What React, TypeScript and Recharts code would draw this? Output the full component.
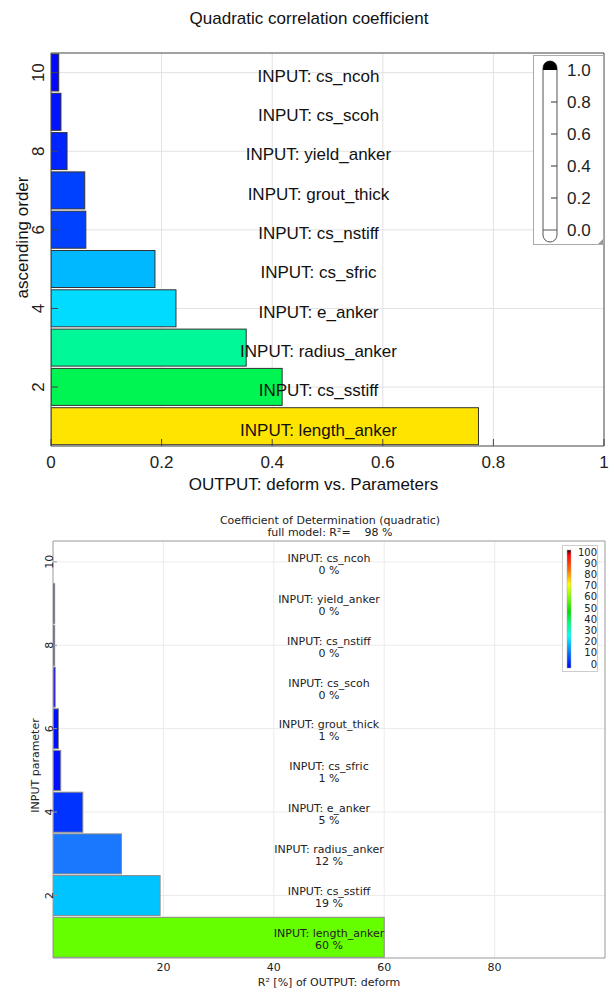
import React from 'react';
import { BarChart, Bar, XAxis, YAxis, CartesianGrid, Cell, Legend } from 'recharts';

// ---------- Top chart data ----------
const topRanks = [1, 2, 3, 4, 5, 6, 7, 8, 9, 10];
const topParams = ['length_anker', 'cs_sstiff', 'radius_anker', 'e_anker', 'cs_sfric', 'cs_nstiff', 'grout_thick', 'yield_anker', 'cs_scoh', 'cs_ncoh'];
const topValues = [0.773, 0.418, 0.353, 0.226, 0.188, 0.063, 0.061, 0.029, 0.018, 0.014];
const topXTicks = [0, 0.2, 0.4, 0.6, 0.8, 1];
const topYTicks = [2, 4, 6, 8, 10];
const topLegendTicks = ['1.0', '0.8', '0.6', '0.4', '0.2', '0.0'];

// ---------- Bottom chart data ----------
const botRanks = [1, 2, 3, 4, 5, 6, 7, 8, 9, 10];
const botParams = ['length_anker', 'cs_sstiff', 'radius_anker', 'e_anker', 'cs_sfric', 'grout_thick', 'cs_scoh', 'cs_nstiff', 'yield_anker', 'cs_ncoh'];
const botValues = [60.0, 19.4, 12.4, 5.4, 1.4, 1.0, 0.4, 0.3, 0.3, 0.0];
const botXTicks = [20, 40, 60, 80];
const botYTicks = [2, 4, 6, 8, 10];
const botLegendTicks = ['100', '90', '80', '70', '60', '50', '40', '30', '20', '10', '0'];
const fullModelR2 = 98;

// ---------- Styles ----------
const topColors = ['#FFE400', '#00F552', '#00F898', '#00DCFF', '#00B8FF', '#0040FF', '#0040FF', '#0024FF', '#0014FF', '#0008FF'];
const botColors = ['#66FF00', '#00C4FF', '#1A78FF', '#0033FF', '#0010FF', '#0010FF', '#0808F0', '#0808F0', '#0808F0', '#0000FF'];
const SANS = '"Liberation Sans", Arial, sans-serif';
const DEJAVU = '"DejaVu Sans", Verdana, sans-serif';

const topData = topRanks.map((r, i) => ({ rank: r, value: topValues[i], name: topParams[i] }));
const botData = botRanks.map((r, i) => ({ rank: r, value: botValues[i], name: botParams[i] }));

const TopShape = (props: any) => {
  const { x, y, width, height, fill, background, payload } = props;
  const cx = background ? background.x + background.width / 2 : x;
  const cy = y + height / 2;
  return (
    <g>
      {width > 0 && <rect x={x} y={y} width={width} height={height} fill={fill} stroke="#333" strokeWidth={1} />}
      <text x={cx - 9} y={cy} dy="0.55em" textAnchor="middle" fontFamily={SANS} fontSize={17} fill="#111">
        {'INPUT: ' + payload.name}
      </text>
    </g>
  );
};

const BotShape = (props: any) => {
  const { x, y, width, height, fill, background, payload } = props;
  const cx = background ? background.x + background.width / 2 : x;
  const cy = y + height / 2;
  return (
    <g>
      {width > 0.2 && <rect x={x} y={y} width={width} height={height} fill={fill} stroke="#888" strokeWidth={1} />}
      <text x={cx} y={cy - 0.5} textAnchor="middle" fontFamily={DEJAVU} fontSize={11} fill="#222">
        {'INPUT: ' + payload.name}
      </text>
      <text x={cx} y={cy + 11.5} textAnchor="middle" fontFamily={DEJAVU} fontSize={11} fill="#222">
        {Math.round(payload.value) + ' %'}
      </text>
    </g>
  );
};

const RotTick = (fs: number, fam: string, shift: number) => (props: any) => {
  const { x, y, payload } = props;
  const cx = x + shift;
  return (
    <text x={cx} y={y} dy="0.35em" transform={`rotate(-90 ${cx} ${y})`} textAnchor="middle" fontFamily={fam} fontSize={fs} fill="#222">
      {payload.value}
    </text>
  );
};

const TopLegend = () => {
  const tubeX = 9, tubeW = 14, top = 5, bot = 186;
  const lvl1 = 14, lvl0 = 174;
  const step = (lvl0 - lvl1) / (topLegendTicks.length - 1);
  return (
    <svg width={71} height={190} style={{ display: 'block', background: '#fff', border: '1px solid #aaa', boxSizing: 'border-box' }}>
      <rect x={tubeX} y={top} width={tubeW} height={bot - top} rx={7} ry={7} fill="#fff" stroke="#555" strokeWidth={1} />
      <path d={`M${tubeX},${lvl1} L${tubeX},${top + 7} A7,7 0 0 1 ${tubeX + tubeW},${top + 7} L${tubeX + tubeW},${lvl1} Z`} fill="#000" />
      <line x1={tubeX} x2={tubeX + tubeW} y1={lvl0} y2={lvl0} stroke="#555" strokeWidth={1} />
      {topLegendTicks.map((t, i) => {
        const yy = lvl1 + i * step;
        return (
          <g key={t}>
            {i > 0 && i < topLegendTicks.length - 1 && <line x1={tubeX + 8} x2={tubeX + tubeW} y1={yy} y2={yy} stroke="#333" strokeWidth={1} />}
            <text x={33} y={yy} dy="0.36em" fontFamily={SANS} fontSize={17} fill="#222">{t}</text>
          </g>
        );
      })}
      <path d="M70,182 L70,189 L63,189 Z" fill="#999" />
    </svg>
  );
};

const BotLegend = () => {
  const top = 4, bot = 122;
  const step = (118 - 6) / (botLegendTicks.length - 1);
  return (
    <svg width={36} height={127} style={{ display: 'block', background: '#fff', border: '1px solid #ccc', boxSizing: 'border-box' }}>
      <defs>
        <linearGradient id="jetGrad" x1="0" y1="0" x2="0" y2="1">
          <stop offset="0%" stopColor="#200000" />
          <stop offset="4%" stopColor="#ff0000" />
          <stop offset="17%" stopColor="#ff7000" />
          <stop offset="29%" stopColor="#ffff00" />
          <stop offset="40%" stopColor="#80ff00" />
          <stop offset="52%" stopColor="#00e000" />
          <stop offset="62%" stopColor="#00ff80" />
          <stop offset="73%" stopColor="#00ffff" />
          <stop offset="86%" stopColor="#0080ff" />
          <stop offset="100%" stopColor="#0000ff" />
        </linearGradient>
      </defs>
      <rect x={4} y={top} width={4} height={bot - top} fill="url(#jetGrad)" stroke="#aaa" strokeWidth={0.5} />
      {botLegendTicks.map((t, i) => (
        <text key={t} x={34} y={6 + i * step} dy="0.36em" textAnchor="end" fontFamily={DEJAVU} fontSize={10} fill="#222">{t}</text>
      ))}
    </svg>
  );
};

export default function App() {
  return (
    <div style={{ position: 'absolute', left: 0, top: 0, width: 611, height: 988, background: '#fff' }}>
      <div style={{ position: 'absolute', left: 0, top: 9, width: 618, textAlign: 'center', fontFamily: SANS, fontSize: 17, color: '#111' }}>
        Quadratic correlation coefficient
      </div>
      <div style={{ position: 'absolute', left: 0, top: 0 }}>
        <BarChart width={611} height={500} data={topData} layout="vertical" margin={{ top: 52, right: 6, left: 0, bottom: 6 }}>
          <CartesianGrid stroke="#e2e2e2" horizontalValues={topYTicks} verticalValues={[0.2, 0.4, 0.6, 0.8]} />
          <XAxis type="number" dataKey="value" domain={[0, 1]} ticks={topXTicks} allowDataOverflow height={48}
            axisLine={{ stroke: '#444' }} tickLine={{ stroke: '#444' }} tickSize={-7} tickMargin={17}
            tick={{ fontFamily: SANS, fontSize: 17, fill: '#222' }}
            label={{ value: 'OUTPUT: deform vs. Parameters', position: 'insideBottom', offset: 4, dx: -14, fontFamily: SANS, fontSize: 17, fill: '#111' }} />
          <XAxis xAxisId="top" orientation="top" type="number" domain={[0, 1]} ticks={topXTicks} height={1}
            axisLine={{ stroke: '#444' }} tickLine={{ stroke: '#444' }} tickSize={-7} tick={false} />
          <YAxis type="number" dataKey="rank" domain={[0.5, 10.5]} ticks={topYTicks} allowDataOverflow width={51} reversed
            axisLine={{ stroke: '#444' }} tickLine={{ stroke: '#444' }} tickSize={-7} tickMargin={20}
            tick={RotTick(17, SANS, 0)}
            label={{
              content: (p: any) => {
                const vb = p.viewBox || { x: 0, y: 53, width: 51, height: 393 };
                const cx = vb.x + 22;
                const cy = vb.y + vb.height / 2 - 12;
                return (
                  <text x={cx} y={cy} dy="0.35em" transform={`rotate(-90 ${cx} ${cy})`} textAnchor="middle" fontFamily={SANS} fontSize={17} fill="#111">
                    ascending order
                  </text>
                );
              },
            }} />
          <YAxis yAxisId="right" orientation="right" type="number" domain={[0.5, 10.5]} ticks={topYTicks} width={1} reversed
            axisLine={{ stroke: '#444' }} tickLine={{ stroke: '#444' }} tickSize={-7} tick={false} />
          <Legend layout="vertical" align="center" verticalAlign="middle" content={TopLegend}
            wrapperStyle={{ left: 533, top: 55, width: 71, height: 190 }} />
          <Bar dataKey="value" barSize={37} isAnimationActive={false} shape={TopShape}>
            {topData.map((d, i) => <Cell key={d.name} fill={topColors[i]} />)}
          </Bar>
        </BarChart>
      </div>

      <div style={{ position: 'absolute', left: 0, top: 515, width: 660, textAlign: 'center', fontFamily: DEJAVU, fontSize: 11, lineHeight: '12px', color: '#222', whiteSpace: 'pre' }}>
        {'Coefficient of Determination (quadratic)\nfull model: R\u00b2=    ' + fullModelR2 + ' %'}
      </div>
      <div style={{ position: 'absolute', left: 0, top: 500 }}>
        <BarChart width={611} height={488} data={botData} layout="vertical" margin={{ top: 40, right: 5, left: 0, bottom: 0 }}>
          <CartesianGrid stroke="#ebebeb" horizontalValues={botYTicks} verticalValues={botXTicks} />
          <XAxis type="number" dataKey="value" domain={[0, 100]} ticks={botXTicks} allowDataOverflow height={30}
            axisLine={{ stroke: '#999' }} tickLine={false} tickSize={0} tickMargin={5}
            tick={{ fontFamily: DEJAVU, fontSize: 11, fill: '#222' }}
            label={{ value: 'R\u00b2 [%] of OUTPUT: deform', position: 'insideBottom', offset: 2, fontFamily: DEJAVU, fontSize: 11, fill: '#222' }} />
          <XAxis xAxisId="top" orientation="top" type="number" domain={[0, 100]} ticks={botXTicks} height={1}
            axisLine={{ stroke: '#999' }} tickLine={false} tick={false} />
          <YAxis type="number" dataKey="rank" domain={[0.5, 10.5]} ticks={botYTicks} allowDataOverflow width={53} reversed
            axisLine={{ stroke: '#999' }} tickLine={{ stroke: '#999' }} tickSize={-4} tickMargin={8}
            tick={RotTick(11, DEJAVU, 0)}
            label={{
              content: (p: any) => {
                const vb = p.viewBox || { x: 0, y: 41, width: 53, height: 417 };
                const cx = vb.x + 35;
                const cy = vb.y + vb.height / 2 + 16;
                return (
                  <text x={cx} y={cy} dy="0.35em" transform={`rotate(-90 ${cx} ${cy})`} textAnchor="middle" fontFamily={DEJAVU} fontSize={11} fill="#222">
                    INPUT parameter
                  </text>
                );
              },
            }} />
          <YAxis yAxisId="right" orientation="right" type="number" domain={[0.5, 10.5]} ticks={botYTicks} width={1} reversed
            axisLine={{ stroke: '#999' }} tickLine={{ stroke: '#999' }} tickSize={-4} tick={false} />
          <Legend layout="vertical" align="center" verticalAlign="middle" content={BotLegend}
            wrapperStyle={{ left: 562, top: 45, width: 36, height: 127 }} />
          <Bar dataKey="value" barSize={40} isAnimationActive={false} shape={BotShape}>
            {botData.map((d, i) => <Cell key={d.name} fill={botColors[i]} />)}
          </Bar>
        </BarChart>
      </div>
    </div>
  );
}
